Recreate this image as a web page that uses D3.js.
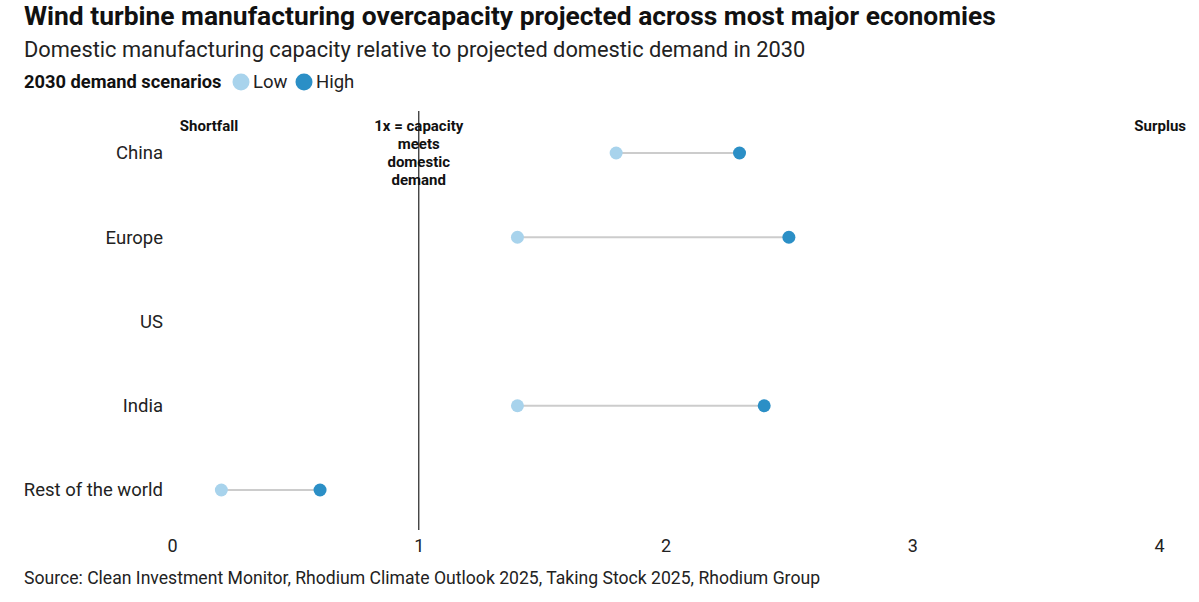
<!DOCTYPE html>
<html>
<head>
<meta charset="utf-8">
<script src="https://cdn.jsdelivr.net/npm/d3@7"></script>
<style>
  body { margin: 0; background: #fff; font-family: Roboto, "Noto Sans", sans-serif; }
  svg text { font-family: Roboto, "Noto Sans", sans-serif; }
</style>
</head>
<body>
<script>
// datos del grafico
var regiones = ["China", "Europe", "US", "India", "Rest of the world"];
var bajo = [1.8, 1.4, null, 1.4, 0.2];
var alto = [2.3, 2.5, null, 2.4, 0.6];
var ticksX = [0, 1, 2, 3, 4];
var escenarios = ["Low", "High"];

var W = 1199, H = 602;
var colorBajo = "#a8d3ec", colorAlto = "#2b8fc6";

var svg = d3.select("body").append("svg")
  .attr("width", W)
  .attr("height", H);

// escalas
var x = d3.scaleLinear().domain([0, 4]).range([172, 1159]);
var y = d3.scalePoint().domain(regiones).range([153, 490]);

// titulo y subtitulo
svg.append("text")
  .attr("x", 24).attr("y", 25)
  .attr("font-size", "26.4px").attr("font-weight", "bold").attr("fill", "#111")
  .text("Wind turbine manufacturing overcapacity projected across most major economies");

svg.append("text")
  .attr("x", 24).attr("y", 57)
  .attr("font-size", "21.8px").attr("fill", "#222")
  .text("Domestic manufacturing capacity relative to projected domestic demand in 2030");

// leyenda
var leyenda = svg.append("g").attr("transform", "translate(24, 88)");
leyenda.append("text")
  .attr("font-size", "18.3px").attr("font-weight", "bold").attr("fill", "#111")
  .text("2030 demand scenarios");
var lx = [241, 304];
escenarios.forEach(function(s, i) {
  leyenda.append("circle")
    .attr("cx", lx[i] - 24).attr("cy", -6).attr("r", 8.5)
    .attr("fill", i == 0 ? colorBajo : colorAlto);
  leyenda.append("text")
    .attr("x", lx[i] - 24 + 12).attr("font-size", "18.5px").attr("fill", "#222")
    .text(s);
});

// eje x
var ejeX = d3.axisBottom(x).tickValues(ticksX).tickSize(0).tickFormat(d3.format("d"));
var gEje = svg.append("g").attr("transform", "translate(0, 533)").call(ejeX);
gEje.select(".domain").remove();
gEje.selectAll("text").attr("font-size", "18px").attr("fill", "#222").attr("dy", "0.9em");

// linea de referencia en 1x
svg.append("line")
  .attr("x1", x(1)).attr("x2", x(1))
  .attr("y1", 111).attr("y2", 530)
  .attr("stroke", "#333").attr("stroke-width", 1.3);

// anotaciones
var anot = svg.append("g").attr("font-size", "15px").attr("font-weight", "bold").attr("fill", "#111");
anot.append("text").attr("x", 209).attr("y", 131).attr("text-anchor", "middle").text("Shortfall");
anot.append("text").attr("x", 1186).attr("y", 131).attr("text-anchor", "end").text("Surplus");
["1x = capacity", "meets", "domestic", "demand"].forEach(function(t, i) {
  anot.append("text").attr("x", x(1)).attr("y", 131 + i * 18).attr("text-anchor", "middle").text(t);
});

// etiquetas de region
svg.selectAll(".region")
  .data(regiones)
  .enter().append("text")
  .attr("class", "region")
  .attr("x", 163)
  .attr("y", function(d) { return y(d); })
  .attr("dy", "0.35em")
  .attr("text-anchor", "end")
  .attr("font-size", "18.5px").attr("fill", "#222")
  .text(function(d) { return d; });

// mancuernas
var datos = regiones.map(function(r, i) { return {r: r, lo: bajo[i], hi: alto[i]}; })
  .filter(function(d) { return d.lo != null; });

svg.selectAll(".barra")
  .data(datos)
  .enter().append("line")
  .attr("class", "barra")
  .attr("x1", function(d) { return x(d.lo); })
  .attr("x2", function(d) { return x(d.hi); })
  .attr("y1", function(d) { return y(d.r); })
  .attr("y2", function(d) { return y(d.r); })
  .attr("stroke", "#cccccc").attr("stroke-width", 2);

svg.selectAll(".bajo")
  .data(datos)
  .enter().append("circle")
  .attr("class", "bajo")
  .attr("cx", function(d) { return x(d.lo); })
  .attr("cy", function(d) { return y(d.r); })
  .attr("r", 6.5).attr("fill", colorBajo);

svg.selectAll(".alto")
  .data(datos)
  .enter().append("circle")
  .attr("class", "alto")
  .attr("cx", function(d) { return x(d.hi); })
  .attr("cy", function(d) { return y(d.r); })
  .attr("r", 6.5).attr("fill", colorAlto);

// fuente
svg.append("text")
  .attr("x", 24).attr("y", 584)
  .attr("font-size", "17.6px").attr("fill", "#222")
  .text("Source: Clean Investment Monitor, Rhodium Climate Outlook 2025, Taking Stock 2025, Rhodium Group");
</script>
</body>
</html>
